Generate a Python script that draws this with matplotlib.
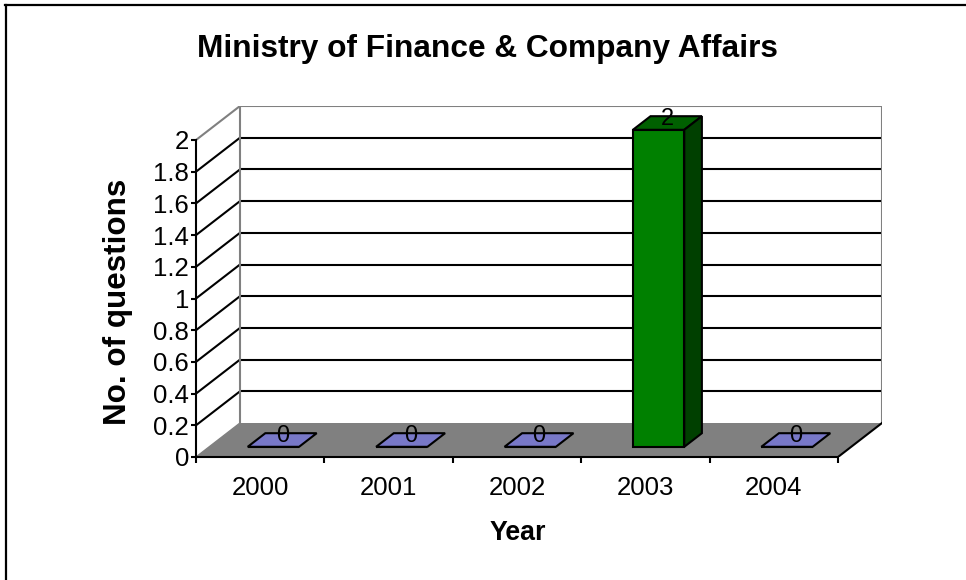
import matplotlib
matplotlib.use('Agg')
import matplotlib.pyplot as plt
from matplotlib.patches import Polygon
from matplotlib.lines import Line2D
import numpy as np

# ---- data ----
years = ['2000', '2001', '2002', '2003', '2004']
questions = [0, 0, 0, 2, 0]
y_ticks = [0, 0.2, 0.4, 0.6, 0.8, 1.0, 1.2, 1.4, 1.6, 1.8, 2.0]
title = 'Ministry of Finance & Company Affairs'
x_title = 'Year'
y_title = 'No. of questions'

# ---- styles ----
front_colors = ['#7878C8', '#7878C8', '#7878C8', '#008000', '#7878C8']
top_colors = ['#7878C8', '#7878C8', '#7878C8', '#006000', '#7878C8']
side_colors = ['#5a5a96', '#5a5a96', '#5a5a96', '#004000', '#5a5a96']
FONT = 'Liberation Sans'
plt.rcParams['font.family'] = [FONT, 'DejaVu Sans']

W, H = 966, 580
fig = plt.figure(figsize=(W / 100, H / 100), dpi=100)

# front plane pixels: x 196..838, y 457 (0) .. 140 (2); depth 44 px right, 34 px up
n = len(years)
ymax = max(y_ticks)
px_per_cat = (838 - 196) / n
px_per_val = (457 - 140) / ymax
dx = 44 / px_per_cat
dy = 34 / px_per_val

ax = fig.add_axes([196 / W, (H - 457) / H, (882 - 196) / W, (457 - 106) / H])
ax.set_xlim(-0.5, n - 0.5 + dx)
ax.set_ylim(0, ymax + dy)
ax.patch.set_alpha(0)

x = np.arange(n)
x0, x1 = -0.5, n - 0.5
lw = 1.5
grid_c = 'black'
edge_gray = '#808080'

# back wall & side wall
ax.add_patch(Polygon([(x0 + dx, dy), (x1 + dx, dy), (x1 + dx, ymax + dy), (x0 + dx, ymax + dy)],
                     closed=True, facecolor='white', edgecolor='none', zorder=1))
for v in y_ticks[1:-1]:
    ax.plot([x0 + dx, x1 + dx], [v + dy, v + dy], color=grid_c, lw=lw, zorder=2, solid_capstyle='butt')
for v in y_ticks[1:]:
    ax.plot([x0, x0 + dx], [v, v + dy], color=(edge_gray if v == ymax else grid_c), lw=lw, zorder=2)
# wall borders (gray)
ax.plot([x0 + dx, x0 + dx], [dy, ymax + dy], color=edge_gray, lw=lw, zorder=2)
ax.plot([x0 + dx, x1 + dx, x1 + dx], [ymax + dy, ymax + dy, dy], color=edge_gray, lw=lw, zorder=2)

# floor
ax.add_patch(Polygon([(x0, 0), (x1, 0), (x1 + dx, dy), (x0 + dx, dy)], closed=True,
                     facecolor='#808080', edgecolor='none', zorder=3))
ax.plot([x0, x0 + dx], [0, dy], color=edge_gray, lw=1.0, zorder=3)
ax.plot([x1, x1 + dx], [0, dy], color='black', lw=lw, zorder=3)

# bars (depth from 0.3 to 0.7 of the wall depth)
bw = 0.4
f0, f1 = 0.3, 0.7
ax.bar(x + f0 * dx, questions, width=bw, bottom=f0 * dy, color=front_colors,
       edgecolor='black', linewidth=lw, zorder=5)
for xi, v, tc, sc in zip(x, questions, top_colors, side_colors):
    xl = xi - bw / 2
    xr = xi + bw / 2
    # top face
    ax.add_patch(Polygon([(xl + f0 * dx, v + f0 * dy), (xr + f0 * dx, v + f0 * dy),
                          (xr + f1 * dx, v + f1 * dy), (xl + f1 * dx, v + f1 * dy)],
                         closed=True, facecolor=tc, edgecolor='black', lw=lw, zorder=5))
    if v > 0:
        ax.add_patch(Polygon([(xr + f0 * dx, f0 * dy), (xr + f1 * dx, f1 * dy),
                              (xr + f1 * dx, v + f1 * dy), (xr + f0 * dx, v + f0 * dy)],
                             closed=True, facecolor=sc, edgecolor='black', lw=lw, zorder=5))
    ax.text(xi + 0.5 * dx, v + 0.62 * dy, f'{v:g}', ha='center', va='center',
            fontsize=17, family=FONT, zorder=6)

# axes
for s in ['top', 'right']:
    ax.spines[s].set_visible(False)
ax.spines['left'].set_bounds(0, ymax)
ax.spines['bottom'].set_bounds(x0, x1)
for s in ['left', 'bottom']:
    ax.spines[s].set_linewidth(lw)
    ax.spines[s].set_zorder(7)
ax.set_yticks(y_ticks)
ax.set_yticklabels([f'{v:g}' for v in y_ticks], fontsize=18.5, family=FONT)
ax.tick_params(axis='y', length=3.5, width=lw, pad=1.5)
ax.set_xticks(np.arange(x0, x1 + 0.01, 1.0))
ax.set_xticklabels([])
ax.set_xticks(x, minor=True)
ax.set_xticklabels(years, minor=True, fontsize=18.5, family=FONT)
ax.tick_params(axis='x', which='major', length=4.5, width=lw)
ax.tick_params(axis='x', which='minor', length=0, pad=13.5)

# titles
fig.text(487.5 / W, 1 - 57 / H, title, ha='center', va='baseline', fontsize=22.8,
         fontweight='bold', family=FONT)
fig.text(518 / W, 1 - 540 / H, x_title, ha='center', va='baseline', fontsize=19.3,
         fontweight='bold', family=FONT)
fig.text(118 / W, 1 - 301.5 / H, y_title, ha='center', va='center', rotation=90,
         fontsize=22.6, fontweight='bold', family=FONT)

# outer border (top and left only)
fig.add_artist(Line2D([5 / W, 1], [1 - 5 / H, 1 - 5 / H], color='black', lw=1.6,
                      transform=fig.transFigure))
fig.add_artist(Line2D([5.5 / W, 5.5 / W], [0, 1 - 5 / H], color='black', lw=1.6,
                      transform=fig.transFigure))

fig.savefig('out.png', dpi=100)
